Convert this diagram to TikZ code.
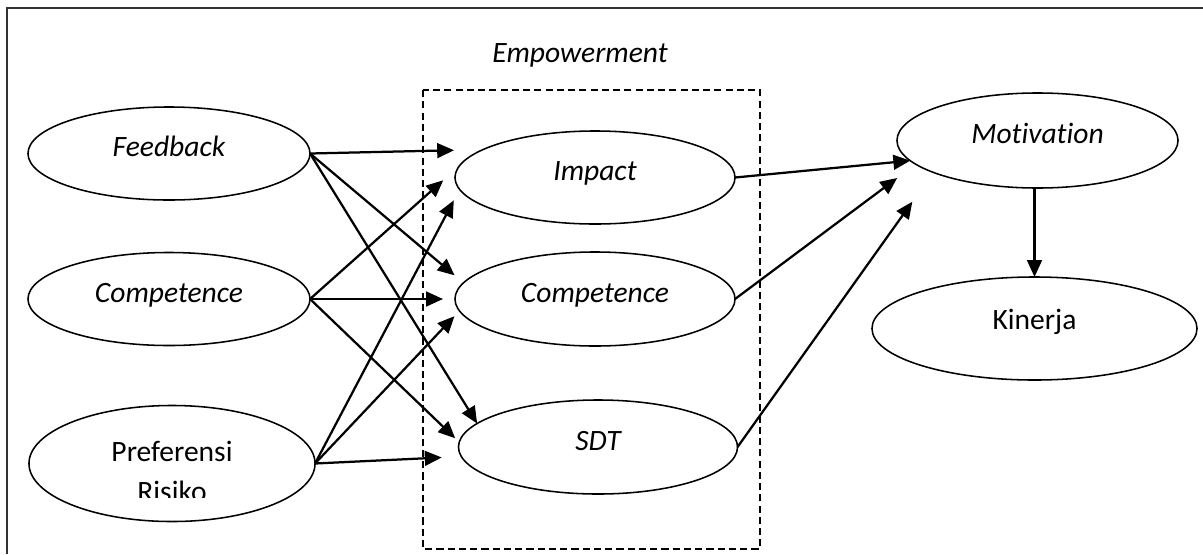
\documentclass[tikz,border=0pt]{standalone}
\usepackage{fontspec}
\setmainfont{Carlito}[Ligatures=NoCommon]
\usetikzlibrary{shapes.geometric, arrows.meta}

\begin{document}
\begin{tikzpicture}[x=0.025cm, y=-0.025cm, font=\fontsize{21}{28.4}\selectfont]
    \tikzstyle{oval} = [draw, ellipse, line width=1.1pt, inner sep=0pt, outer sep=0pt, text height=13.5pt, text depth=9pt]
    \tikzstyle{ital} = [font=\fontsize{21}{28.4}\selectfont\itshape]
    \tikzstyle{arr} = [-{Triangle[length=12pt, width=10.5pt]}, line width=1.6pt]
    \useasboundingbox (0, 0) rectangle (1203, 554);
    \draw[line width=1.1pt, black!80] (7, 554) -- (7, 8) -- (1203, 8);
    % empowerment group
    \draw[line width=1.1pt, dash pattern=on 5pt off 3pt] (423, 90) rectangle (760, 549);
    \node[ital] (emp) at (580, 55) {Empowerment};
    % left column
    \node[oval, ital, minimum width=7.05cm, minimum height=2.325cm] (fb) at (169, 153.5) {Feedback};
    \node[oval, ital, minimum width=7.05cm, minimum height=2.325cm] (cl) at (169, 299) {Competence};
    \node[oval, minimum width=7.15cm, minimum height=2.9cm] (pr) at (172, 463.5) {};
    \begin{scope}
      \clip (29, 400) rectangle (315, 497);
      \node[align=center] (prtext) at (172, 471) {Preferensi\\Risiko};
    \end{scope}
    % middle column
    \node[oval, ital, minimum width=7cm, minimum height=2.325cm] (imp) at (595, 177.5) {Impact};
    \node[oval, ital, minimum width=7cm, minimum height=2.35cm] (cm) at (595, 299) {Competence};
    \node[oval, ital, minimum width=6.975cm, minimum height=2.35cm] (sdt) at (598, 447) {SDT};
    % right column
    \node[oval, ital, minimum width=7.025cm, minimum height=2.375cm] (mot) at (1037.5, 140.5) {Motivation};
    \node[oval, text depth=12pt, minimum width=8.125cm, minimum height=2.575cm] (kin) at (1034.5, 328.5) {Kinerja};
    % arrows
    \draw[arr, shorten >=20.6pt] (fb.east) -- (imp.166);
    \draw[arr, shorten >=8.3pt] (fb.east) -- (cm.173);
    \draw[arr] (fb.east) -- (sdt.169);
    \draw[arr, shorten >=15.6pt] (cl.east) -- (imp.175);
    \draw[arr, shorten >=8.5pt] (cl.east) -- (cm.west);
    \draw[arr, shorten >=4pt] (cl.east) -- (sdt.178);
    \draw[arr, shorten >=8.8pt] (pr.east) -- (imp.185);
    \draw[arr, shorten >=5.2pt] (pr.east) -- (cm.185);
    \draw[arr, shorten >=14pt] (pr.east) -- (sdt.184);
    \draw[arr] (imp.east) -- (mot.189);
    \draw[arr, shorten >=16.4pt] (cm.east) -- (mot.191);
    \draw[arr, shorten >=25.6pt] (sdt.east) -- (mot.197);
    \draw[arr] (kin.north |- mot.south) -- (kin.north);
\end{tikzpicture}
\end{document}
